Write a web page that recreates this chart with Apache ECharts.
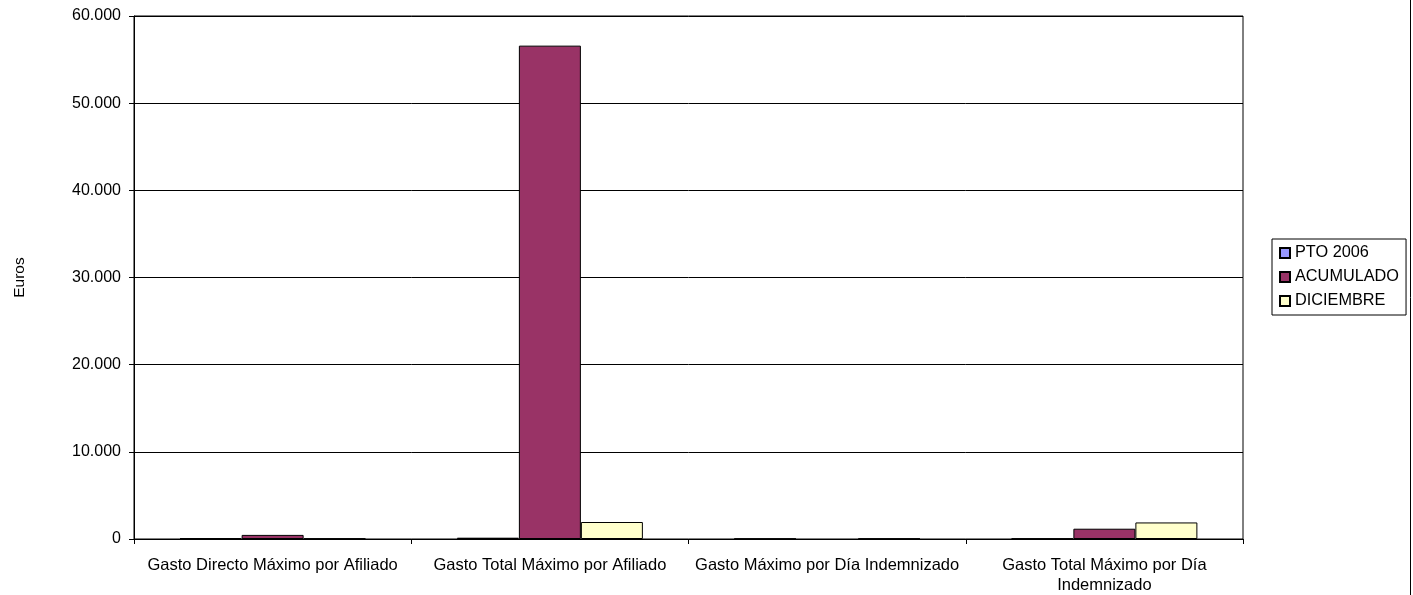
<!DOCTYPE html>
<html>
<head>
<meta charset="utf-8">
<script src="https://cdn.jsdelivr.net/npm/echarts@6/dist/echarts.min.js"></script>
<style>
html,body{margin:0;padding:0;background:#fff;}
#chart{width:1413px;height:595px;}
</style>
</head>
<body>
<div id="chart"></div>
<script>
var categories = ['Gasto Directo Máximo por Afiliado', 'Gasto Total Máximo por Afiliado', 'Gasto Máximo por Día Indemnizado', 'Gasto Total Máximo por Día Indemnizado'];
var seriesNames = ['PTO 2006', 'ACUMULADO', 'DICIEMBRE'];
var pto2006 = [100, 150, 40, 60];
var acumulado = [470, 56600, null, 1180];
var diciembre = [60, 1950, 50, 1900];
var yTicks = [0, 10000, 20000, 30000, 40000, 50000, 60000];

var colors = ['#9999FF', '#993366', '#FFFFCC'];
var font = 'Arial, "Liberation Sans", sans-serif';

function fmt(v) {
  return String(v).replace(/\B(?=(\d{3})+(?!\d))/g, '.');
}
function wrap(s) {
  var words = s.split(' '), lines = [], cur = '';
  words.forEach(function (w) {
    var t = cur ? cur + ' ' + w : w;
    if (t.length > 33 && cur) { lines.push(cur); cur = w; } else { cur = t; }
  });
  lines.push(cur);
  return lines.join('\n');
}

var chart = echarts.init(document.getElementById('chart'));
var values = [pto2006, acumulado, diciembre];
chart.setOption({
  animation: false,
  backgroundColor: '#fff',
  textStyle: { fontFamily: font, color: '#000' },
  grid: { left: 134, right: 170, top: 16, bottom: 55, show: true, borderColor: '#000', borderWidth: 1, backgroundColor: 'transparent' },
  legend: {
    orient: 'vertical',
    left: 1272, top: 239,
    icon: 'rect',
    itemWidth: 10, itemHeight: 10, itemGap: 8,
    padding: [6, 7, 6, 7],
    borderColor: '#000', borderWidth: 1,
    textStyle: { fontFamily: font, fontSize: 16.3, color: '#000' },
    data: seriesNames
  },
  xAxis: {
    type: 'category',
    data: categories,
    axisLine: { lineStyle: { color: '#000', width: 1 } },
    axisTick: { show: true, alignWithLabel: false, length: 5, lineStyle: { color: '#000' } },
    axisLabel: { interval: 0, margin: 16, fontSize: 16.5, color: '#000', fontFamily: font, lineHeight: 20, formatter: wrap, hideOverlap: false }
  },
  yAxis: {
    type: 'value',
    min: yTicks[0], max: yTicks[yTicks.length - 1], interval: 10000,
    name: 'Euros', nameLocation: 'middle', nameGap: 106, nameRotate: 90,
    nameTextStyle: { fontSize: 15.5, color: '#000', fontFamily: font },
    axisLine: { show: true, lineStyle: { color: '#000' } },
    axisTick: { show: true, length: 5, lineStyle: { color: '#000' } },
    axisLabel: { margin: 13, fontSize: 16, color: '#000', fontFamily: font, formatter: fmt },
    splitLine: { show: true, lineStyle: { color: '#000', width: 1 } }
  },
  series: seriesNames.map(function (n, i) {
    return {
      name: n, type: 'bar', data: values[i], barWidth: 62, barGap: '0%',
      itemStyle: { color: colors[i], borderColor: '#000', borderWidth: 1 }
    };
  }),
  graphic: [{
    type: 'line', shape: { x1: 1410.5, y1: 0, x2: 1410.5, y2: 595 },
    style: { stroke: '#000', lineWidth: 1 }
  }]
});
</script>
</body>
</html>
